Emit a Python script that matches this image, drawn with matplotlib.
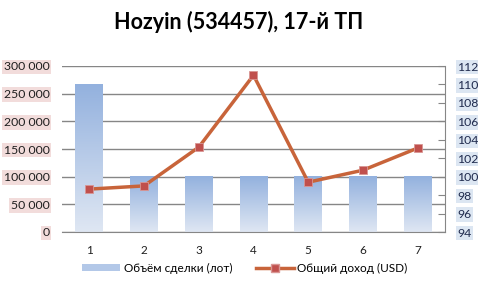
import matplotlib
matplotlib.use("Agg")
import matplotlib.pyplot as plt
import numpy as np
from matplotlib.colors import LinearSegmentedColormap
from matplotlib.lines import Line2D
from matplotlib.patches import Patch

categories = ["1", "2", "3", "4", "5", "6", "7"]
volume = [266000, 100000, 100000, 100000, 100000, 100000, 100000]
income = [98.65, 99.0, 103.2, 111.0, 99.4, 100.7, 103.1]
left_ticks = [0, 50000, 100000, 150000, 200000, 250000, 300000]
left_labels = ["0", "50 000", "100 000", "150 000", "200 000", "250 000", "300 000"]
right_ticks = [94, 96, 98, 100, 102, 104, 106, 108, 110, 112]
title = "Hozyin (534457), 17-й ТП"
legend_bar = "Объём сделки (лот)"
legend_line = "Общий доход (USD)"

plt.rcParams['font.family'] = ['Lato', 'DejaVu Sans']

fig = plt.figure(figsize=(4.78, 2.81), dpi=100)
ax = fig.add_axes([62/478, 1-232/281, (445-62)/478, (232-66)/281])
ax2 = ax.twinx()

x = np.arange(len(categories))
bars = ax.bar(x, volume, width=0.51, color='none', edgecolor='none', zorder=2)
cmap = LinearSegmentedColormap.from_list("g", ["#dfe7f3", "#93b1de"])
grad = np.linspace(0, 1, 256).reshape(-1, 1)
for b in bars:
    x0, y0 = b.get_x(), b.get_y()
    w, h = b.get_width(), b.get_height()
    ax.imshow(grad, extent=[x0, x0 + w, y0, y0 + h], origin='lower', aspect='auto',
              cmap=cmap, zorder=2)

ax.set_xlim(-0.5, len(categories) - 0.5)
ax.set_ylim(0, 300000)
ax.set_yticks(left_ticks)
ax.set_yticklabels(left_labels)
ax.set_xticks(x)
ax.set_xticklabels(categories)
ax.yaxis.grid(True, color='#868686', linewidth=1)
ax.set_axisbelow(True)
for s in ['top', 'right', 'left']:
    ax.spines[s].set_visible(False)
ax.spines['bottom'].set_color('#868686')
ax.tick_params(axis='y', length=0, pad=9, labelsize=8.8, labelcolor='#1f1f1f')
ax.tick_params(axis='x', length=0, pad=9, labelsize=8.5, labelcolor='#1f1f1f')
for t in ax.get_yticklabels():
    t.set_bbox(dict(facecolor='#f2dcdb', edgecolor='none', pad=1.2))

ax2.plot(x, income, color='#c8643a', linewidth=2.5, marker='s', markersize=6,
         markerfacecolor='#c0504d', markeredgecolor='#d99694', markeredgewidth=0.6, zorder=5)
ax2.set_ylim(94, 112)
ax2.set_yticks(right_ticks)
for s in ['top', 'left', 'bottom']:
    ax2.spines[s].set_visible(False)
ax2.spines['right'].set_color('#868686')
ax2.tick_params(axis='y', direction='in', length=5, color='#868686', pad=9,
                labelsize=8.8, labelcolor='#1f2a4d')
for t in ax2.get_yticklabels():
    t.set_bbox(dict(facecolor='#dce6f2', edgecolor='none', pad=1.2))

fig.text(239/478, 1-22/281, title, ha='center', va='center', fontsize=15.5, fontweight='bold')

handles = [Patch(facecolor='#b3c8e8', edgecolor='none'),
           Line2D([0], [0], color='#c8643a', linewidth=2.5, marker='s', markersize=6,
                  markerfacecolor='#c0504d', markeredgecolor='#d99694')]
fig.legend(handles, [legend_bar, legend_line], loc='center', bbox_to_anchor=(245/478, 1-268/281),
           ncol=2, frameon=False, fontsize=8.5, handlelength=3.2, handletextpad=0.3,
           columnspacing=2.0, handleheight=0.6)

fig.savefig("out.png", dpi=100)
